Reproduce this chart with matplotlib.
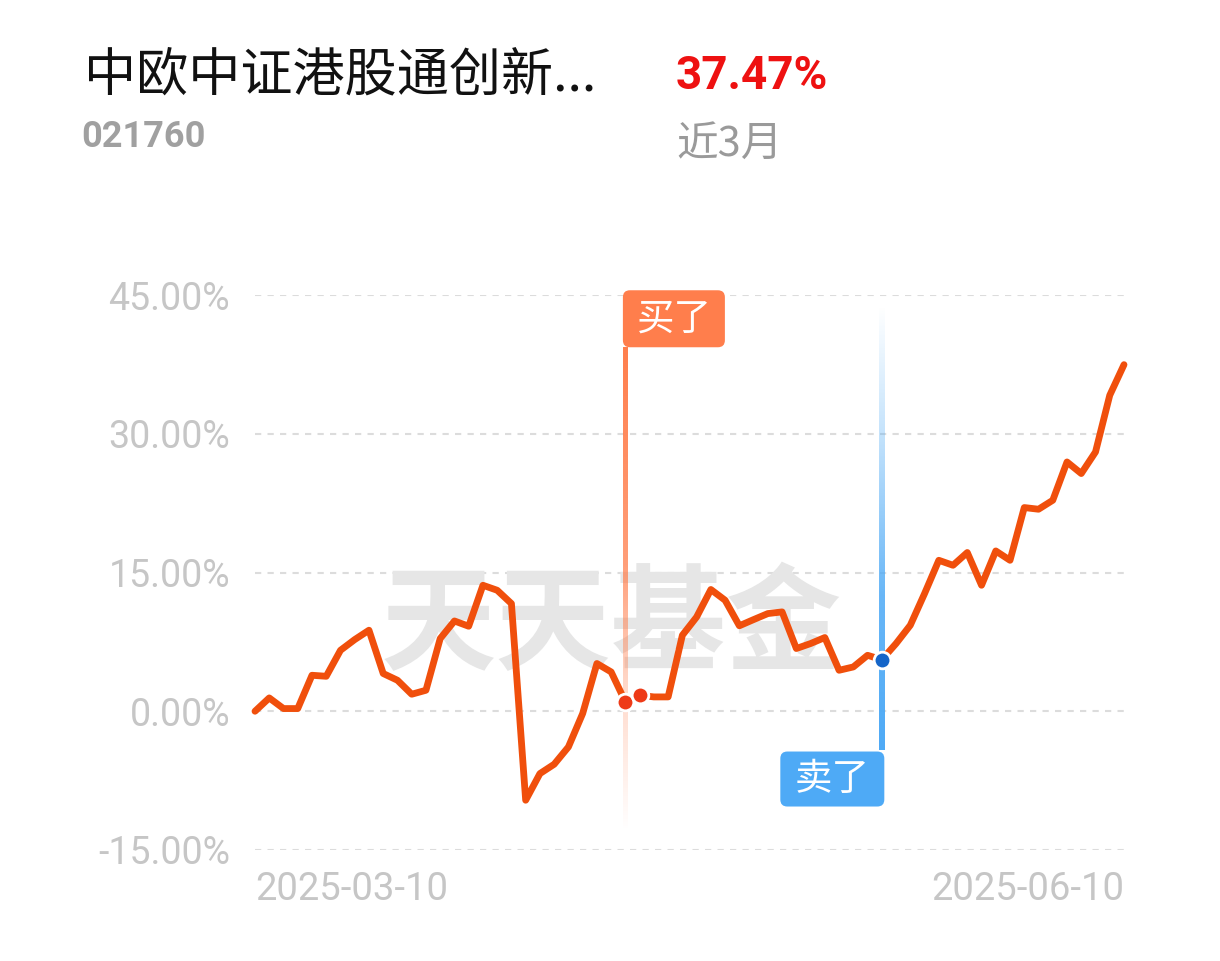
import numpy as np
import matplotlib
matplotlib.use("Agg")
import matplotlib.pyplot as plt
from matplotlib.patches import FancyBboxPatch

plt.rcParams['font.family'] = ['Noto Sans CJK SC', 'DejaVu Sans']

# ---------------- data ----------------
fund_name = "中欧中证港股通创新..."
fund_code = "021760"
period_return = "37.47%"
period_label = "近3月"
start_label = "2025-03-10"
end_label = "2025-06-10"
yticks = [-15, 0, 15, 30, 45]
ytick_labels = ["-15.00%", "0.00%", "15.00%", "30.00%", "45.00%"]
returns = [0.0, 1.44, 0.29, 0.29, 3.89, 3.78, 6.59, 7.75, 8.76, 4.08,
           3.35, 1.84, 2.27, 7.86, 9.76, 9.19, 13.62, 13.08, 11.64, -9.62,
           -6.74, -5.73, -3.86, -0.25, 5.16, 4.25, 1.01, 1.73, 1.55, 1.55,
           8.22, 10.19, 13.16, 12.00, 9.24, 9.91, 10.56, 10.74, 6.78, 7.32,
           7.97, 4.43, 4.79, 6.05, 5.57, 7.32, 9.30, 12.72, 16.32, 15.78,
           17.16, 13.62, 17.33, 16.32, 22.02, 21.84, 22.81, 26.95, 25.70, 28.03,
           34.16, 37.47]
buy_idx = [26, 27]
sell_idx = [44]
buy_text = "买了"
sell_text = "卖了"
watermark = "天天基金"

# ---------------- style ----------------
W, H = 1220, 961
LINE_C = "#F04F0C"
BUY_C = "#FF7E4C"
SELL_C = "#4EAAF6"
DOT_RED = "#EE3A17"
DOT_BLUE = "#1565C8"
GRID_C = "#DCDCDC"
TICK_C = "#C6C6C6"

fig = plt.figure(figsize=(W / 100, H / 100), dpi=100)
fig.patch.set_facecolor("white")

ax_l, ax_r, ax_b, ax_t = 255, 1124, 850, 295
ax = fig.add_axes([ax_l / W, 1 - ax_b / H, (ax_r - ax_l) / W, (ax_b - ax_t) / H])
ax.set_facecolor("none")
x = np.arange(len(returns))
ax.set_xlim(0, len(returns) - 1)
ax.set_ylim(-15, 45)
for s in ax.spines.values():
    s.set_visible(False)

# pixel -> data unit scales
px_x = (len(returns) - 1) / (ax_r - ax_l)      # index units per pixel
px_y = 60.0 / (ax_b - ax_t)                    # percent units per pixel

# grid
for yt in yticks:
    ax.axhline(yt, color=GRID_C, lw=1.5, ls=(0, (3, 3)), zorder=0)

ax.set_yticks(yticks)
ax.set_yticklabels(ytick_labels)
ax.tick_params(axis='y', length=0, pad=18, labelsize=27, labelcolor=TICK_C)
for t in ax.get_yticklabels():
    t.set_family(['Roboto', 'DejaVu Sans'])

ax.set_xticks([0, len(returns) - 1])
ax.set_xticklabels([start_label, end_label])
ax.tick_params(axis='x', length=0, pad=15, labelsize=27.5, labelcolor=TICK_C)
xl = ax.get_xticklabels()
xl[0].set_ha('left')
xl[1].set_ha('right')
for t in xl:
    t.set_family(['Roboto', 'DejaVu Sans'])

# watermark
ax.text(0.41, 0.40, watermark, transform=ax.transAxes, ha='center', va='center',
        fontsize=83, fontweight='heavy', color="#E6E6E6", zorder=0.5,
        family=['Noto Sans CJK SC'])

# gradient vertical lines (image strips)
def grad_line(xpos, y_top, y_bot, color, stops, width_px=5):
    n = 256
    t = np.linspace(0, 1, n)               # 0 = top, 1 = bottom
    st_t = [s[0] for s in stops]
    st_a = [s[1] for s in stops]
    alpha = np.interp(t, st_t, st_a)
    rgba = np.zeros((n, 1, 4))
    rgba[:, 0, :3] = matplotlib.colors.to_rgb(color)
    rgba[:, 0, 3] = alpha
    hw = width_px * px_x / 2
    ax.imshow(rgba, extent=[xpos - hw, xpos + hw, y_bot, y_top], aspect='auto',
              origin='upper', zorder=1, interpolation='bilinear')

bx = x[buy_idx[0]]
grad_line(bx, 39.4, -12.9, BUY_C, [(0, 1.0), (0.45, 0.75), (0.7, 0.3), (1.0, 0.0)])
sx = x[sell_idx[0]]
grad_line(sx, 43.8, -4.2, SELL_C, [(0, 0.0), (0.3, 0.35), (0.65, 0.85), (1.0, 1.0)])
ax.set_xlim(0, len(returns) - 1)
ax.set_ylim(-15, 45)

# main line
ax.plot(x, returns, color=LINE_C, lw=4.9, solid_joinstyle='round',
        solid_capstyle='round', zorder=3, clip_on=False)

# dots
ax.plot(x[buy_idx], np.array(returns)[buy_idx], 'o', ms=12, mfc=DOT_RED, mec='white',
        mew=2, zorder=4, ls='none')
ax.plot(x[sell_idx], np.array(returns)[sell_idx], 'o', ms=12, mfc=DOT_BLUE, mec='white',
        mew=2, zorder=4, ls='none')

# label boxes (sizes in pixels converted to data units)
def label_box(x_left, y_bottom, w_px, h_px, color, text):
    w = w_px * px_x
    h = h_px * px_y
    p = FancyBboxPatch((x_left, y_bottom), w, h,
                       boxstyle=f"round,pad=0,rounding_size={7 * px_x}",
                       mutation_aspect=px_y / px_x, fc=color, ec='none',
                       zorder=5, clip_on=False)
    ax.add_patch(p)
    ax.text(x_left + w / 2, y_bottom + h / 2, text, ha='center', va='center',
            fontsize=27, color='white', zorder=6)

label_box(bx - 2.5 * px_x, 39.35, 102, 57, BUY_C, buy_text)
label_box(sx + 2.5 * px_x - 104 * px_x, -10.3, 104, 55, SELL_C, sell_text)

# header
fig.text(84 / W, 1 - 76 / H, fund_name, ha='left', va='center', fontsize=37.5, color='#111111')
fig.text(81 / W, 1 - 137 / H, fund_code, ha='left', va='center', fontsize=26,
         fontweight='bold', color='#A0A0A0', family=['Roboto', 'DejaVu Sans'])
fig.text(676 / W, 1 - 76 / H, period_return, ha='left', va='center', fontsize=33,
         fontweight='bold', color='#EE1111', family=['Roboto', 'DejaVu Sans'])
fig.text(676 / W, 1 - 144 / H, period_label, ha='left', va='center', fontsize=30,
         color='#9A9A9A')

fig.savefig("out.png", dpi=100)
